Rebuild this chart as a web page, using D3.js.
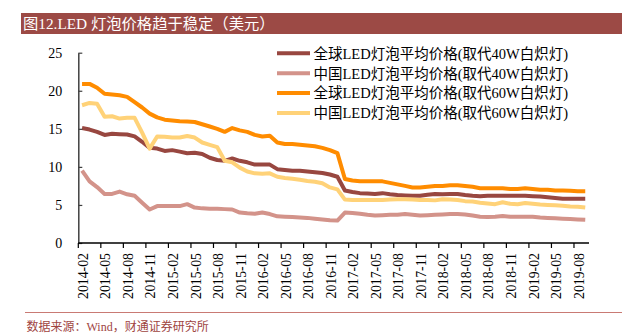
<!DOCTYPE html>
<html><head><meta charset="utf-8">
<script src="https://cdn.jsdelivr.net/npm/d3@7"></script>
<style>body{margin:0;background:#fff}svg{display:block}</style>
</head><body><svg id="c" width="622" height="336"></svg>
<script>
const months = ["2014-02","2014-03","2014-04","2014-05","2014-06","2014-07","2014-08","2014-09","2014-10","2014-11","2014-12",
"2015-01","2015-02","2015-03","2015-04","2015-05","2015-06","2015-07","2015-08","2015-09","2015-10","2015-11","2015-12",
"2016-01","2016-02","2016-03","2016-04","2016-05","2016-06","2016-07","2016-08","2016-09","2016-10","2016-11","2016-12",
"2017-01","2017-02","2017-03","2017-04","2017-05","2017-06","2017-07","2017-08","2017-09","2017-10","2017-11","2017-12",
"2018-01","2018-02","2018-03","2018-04","2018-05","2018-06","2018-07","2018-08","2018-09","2018-10","2018-11","2018-12",
"2019-01","2019-02","2019-03","2019-04","2019-05","2019-06","2019-07","2019-08","2019-09"];
const tickLabels = ["2014-02","2014-05","2014-08","2014-11","2015-02","2015-05","2015-08","2015-11","2016-02","2016-05","2016-08","2016-11","2017-02","2017-05","2017-08","2017-11","2018-02","2018-05","2018-08","2018-11","2019-02","2019-05","2019-08"];
const yTicks = [0,5,10,15,20,25];
const seriesNames = ["全球LED灯泡平均价格(取代40W白炽灯)","中国LED灯泡平均价格(取代40W白炽灯)","全球LED灯泡平均价格(取代60W白炽灯)","中国LED灯泡平均价格(取代60W白炽灯)"];
const global40 = [15.1,14.9,14.6,14.2,14.35,14.3,14.25,14.0,13.3,12.5,12.4,12.1,12.2,12.0,11.8,11.85,11.7,11.2,10.9,10.8,11.1,10.8,10.6,10.3,10.3,10.3,9.7,9.6,9.5,9.5,9.4,9.3,9.2,9.0,8.7,6.9,6.7,6.55,6.5,6.45,6.55,6.4,6.3,6.25,6.2,6.2,6.35,6.45,6.4,6.45,6.45,6.3,6.2,6.15,6.2,6.2,6.2,6.2,6.2,6.2,6.15,6.1,6.0,5.9,5.8,5.8,5.8,5.8];
const china40 = [9.5,8.1,7.35,6.45,6.45,6.75,6.4,6.2,5.3,4.4,4.85,4.85,4.85,4.85,5.1,4.65,4.55,4.5,4.5,4.45,4.4,4.0,3.9,3.85,4.0,3.8,3.5,3.45,3.4,3.35,3.3,3.2,3.1,3.0,2.95,4.0,3.95,3.85,3.7,3.6,3.65,3.7,3.7,3.8,3.7,3.6,3.65,3.7,3.75,3.8,3.8,3.75,3.6,3.45,3.4,3.45,3.55,3.45,3.45,3.45,3.45,3.35,3.3,3.25,3.2,3.15,3.1,3.05];
const global60 = [20.9,20.9,20.4,19.6,19.5,19.4,19.2,18.5,17.8,17.0,16.5,16.2,16.1,16.0,15.95,15.9,15.6,15.3,15.0,14.6,15.1,14.8,14.6,14.2,14.0,14.1,13.2,13.0,13.0,12.9,12.8,12.7,12.5,12.2,11.8,8.4,8.2,8.1,8.1,8.1,8.1,7.9,7.7,7.5,7.3,7.3,7.4,7.5,7.5,7.6,7.6,7.5,7.4,7.2,7.2,7.2,7.2,7.1,7.1,7.2,7.1,7.0,7.0,6.9,6.9,6.85,6.8,6.8];
const china60 = [18.1,18.4,18.3,16.6,16.65,16.35,16.45,16.45,14.5,12.4,14.0,13.95,13.85,13.85,14.05,13.85,13.2,12.9,12.6,10.8,10.6,9.9,9.4,9.15,9.1,9.15,8.7,8.55,8.45,8.3,8.15,8.05,7.85,7.3,7.05,5.7,5.65,5.65,5.65,5.65,5.65,5.7,5.75,5.75,5.7,5.65,5.65,5.6,5.75,5.7,5.65,5.5,5.45,5.3,5.2,5.1,5.35,5.15,5.1,5.25,5.15,5.05,5.0,4.95,4.9,4.8,4.75,4.65];
const colors = ["#984740","#D3938A","#FF8C00","#FFD278"];

const svg = d3.select("#c");
const serif = "'Liberation Serif','Times New Roman','Noto Sans CJK SC',serif";

// title bar
svg.append("rect").attr("x",21).attr("y",13).attr("width",601).attr("height",21).attr("fill","#9C4A45");
svg.append("text").attr("x",23).attr("y",29).attr("fill","#fff").attr("font-family",serif).attr("font-size",15.3)
  .text("图12.LED 灯泡价格趋于稳定（美元）");

const x = d3.scaleBand().domain(months).range([78.3,589]);
const y = d3.scaleLinear().domain([0,25]).range([243,52.7]);

// lines
const allSeries = [global40, china40, global60, china60];
const line = d3.line().x((d,i)=>x(months[i])+x.bandwidth()/2).y(d=>y(d));
[0,1,2,3].forEach(k=>{
  svg.append("path").datum(allSeries[k]).attr("d",line).attr("fill","none")
    .attr("stroke",colors[k]).attr("stroke-width",4).attr("stroke-linejoin","round");
});

// y axis
const ya = svg.append("g").attr("transform","translate(78.3,0)")
  .call(d3.axisLeft(y).tickValues(yTicks).tickSizeInner(-4).tickSizeOuter(0).tickPadding(16));
ya.select(".domain").attr("stroke","#404040").attr("stroke-width",1.5);
ya.selectAll(".tick line").attr("stroke","#404040").attr("stroke-width",1.2);
ya.selectAll("text").attr("font-family",serif).attr("font-size",14).attr("fill","#000");

// x axis
const xa = svg.append("g").attr("transform","translate(0,243)");
xa.append("line").attr("x1",78.3).attr("x2",589).attr("y1",0).attr("y2",0).attr("stroke","#000").attr("stroke-width",1.5);
tickLabels.forEach(t=>{
  const px = x(t);
  xa.append("line").attr("x1",px).attr("x2",px).attr("y1",0).attr("y2",5).attr("stroke","#000").attr("stroke-width",1.2);
  xa.append("text").attr("transform",`translate(${px+x.bandwidth()/2+1},10) rotate(-90)`)
    .attr("text-anchor","end").attr("dy","0.35em").attr("font-family",serif).attr("font-size",13.8).attr("fill","#000").text(t);
});

// legend
const ly = [53.3,73.3,93,113];
seriesNames.forEach((n,k)=>{
  svg.append("line").attr("x1",277).attr("x2",310).attr("y1",ly[k]).attr("y2",ly[k]).attr("stroke",colors[k]).attr("stroke-width",4);
  svg.append("text").attr("x",313.5).attr("y",ly[k]).attr("dy","0.36em").attr("font-family",serif).attr("font-size",14.5).attr("fill","#000").text(n);
});

// footer
svg.append("line").attr("x1",25).attr("x2",622).attr("y1",312.5).attr("y2",312.5).attr("stroke","#C97A74").attr("stroke-width",1);
svg.append("text").attr("x",26.5).attr("y",331).attr("font-family",serif).attr("font-size",12).attr("fill","#A0453F")
  .text("数据来源：Wind，财通证券研究所");
</script></body></html>
